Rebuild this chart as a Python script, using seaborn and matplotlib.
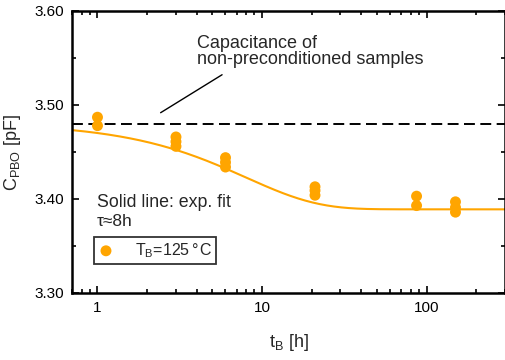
import numpy as np
import pandas as pd
import matplotlib
matplotlib.use("Agg")
import matplotlib.pyplot as plt
import seaborn as sns
from matplotlib.ticker import LogLocator, MultipleLocator, NullFormatter, FixedLocator, FixedFormatter

# ---- data ----
t_hours = [1, 1, 3, 3, 3, 6, 6, 6, 21, 21, 21, 87, 87, 150, 150, 150]
c_pbo = [3.487, 3.478, 3.466, 3.461, 3.456, 3.444, 3.439, 3.434,
         3.413, 3.409, 3.404, 3.403, 3.393, 3.397, 3.391, 3.386]

# exponential fit parameters: C(t) = C_inf + A * exp(-t / tau)
fit_c_inf = 3.389
fit_amp = 0.092
fit_tau = 8.0
fit_t = np.logspace(np.log10(0.7), np.log10(300), 300)

c_nonpre = 3.48
xticks = [1, 10, 100]
xticklabels = ["1", "10", "100"]
yticks = [3.30, 3.40, 3.50, 3.60]
yticklabels = ["3.30", "3.40", "3.50", "3.60"]

sns.set_theme(style="ticks")
plt.rcParams['font.family'] = ['Liberation Sans', 'DejaVu Sans']
plt.rcParams['mathtext.fontset'] = 'custom'
plt.rcParams['mathtext.rm'] = 'Liberation Sans'
plt.rcParams['mathtext.it'] = 'Liberation Sans:italic'

ORANGE = "#FFA500"

fig = plt.figure(figsize=(5.06, 3.60), dpi=100)
ax = fig.add_axes([72/506, 1 - 293/360, (505 - 72)/506, (293 - 11)/360])

df = pd.DataFrame({"t": t_hours, "c": c_pbo})
fit_df = pd.DataFrame({"t": fit_t,
                       "c": fit_c_inf + fit_amp * np.exp(-fit_t / fit_tau)})

sns.lineplot(data=fit_df, x="t", y="c", ax=ax, color=ORANGE, lw=1.5, zorder=2)
sns.scatterplot(data=df, x="t", y="c", ax=ax, color=ORANGE, s=62,
                edgecolor="none", zorder=3,
                label=r"$\mathregular{T_B}$=125$\mathregular{\,}$°$\mathregular{\,}$C")
ax.axhline(c_nonpre, color="black", lw=1.4, ls=(0, (5.6, 2.8)), zorder=1)

ax.set_xscale("log")
ax.set_xlim(0.7, 300)
ax.set_ylim(3.30, 3.60)

ax.xaxis.set_major_locator(FixedLocator(xticks))
ax.xaxis.set_major_formatter(FixedFormatter(xticklabels))
ax.xaxis.set_minor_locator(LogLocator(base=10, subs=np.arange(2, 10)))
ax.xaxis.set_minor_formatter(NullFormatter())
ax.yaxis.set_major_locator(FixedLocator(yticks))
ax.yaxis.set_major_formatter(FixedFormatter(yticklabels))
ax.yaxis.set_minor_locator(MultipleLocator(0.05))

ax.tick_params(which="both", direction="in", top=True, right=True, width=1.2,
               labelsize=11, color="black", labelcolor="black")
ax.tick_params(which="major", length=5, pad=6)
ax.tick_params(which="minor", length=3)
for sp in ax.spines.values():
    sp.set_linewidth(1.8)
    sp.set_color("black")

ax.set_xlabel(r"$\mathregular{t_B}$ [h]", fontsize=13, labelpad=12)
ax.set_ylabel(r"$\mathregular{C_{PBO}}$ [pF]", fontsize=13, labelpad=8)

ax.text(4.03, 3.557, "Capacitance of\nnon-preconditioned samples", fontsize=13,
        ha="left", va="center", linespacing=0.95)
ax.plot([2.42, 5.72], [3.4918, 3.5322], color="black", lw=1.0)

ax.text(0.99, 3.396, "Solid line: exp. fit", fontsize=12.8, ha="left", va="center")
ax.text(0.99, 3.376, "τ≈8h", fontsize=12.5, ha="left", va="center")

leg = ax.legend(loc="upper left", bbox_to_anchor=(22/433, 1 - (237 - 11)/282),
                frameon=True, fancybox=False, fontsize=11.5, handletextpad=1.3,
                borderpad=0.25, markerscale=1.0, handlelength=1.0,
                borderaxespad=0)
leg.get_frame().set_edgecolor("black")
leg.get_frame().set_linewidth(1.3)

fig.savefig("out.png", dpi=100)
